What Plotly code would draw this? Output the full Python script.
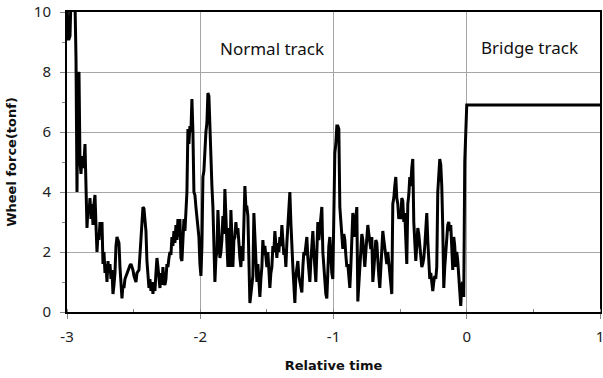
import plotly.graph_objects as go

# Normal-track wheel force (tonf), sampled every SAMPLE_STEP of relative time from START_TIME
START_TIME = -3.0
SAMPLE_STEP = 0.0075
normal_force = [
    10.5, 9.1, 9.1, 9.2, 10.5, 10.5, 10.5, 10.5, 10.3, 8.5, 4.0, 7.9, 8.0, 5.0, 4.6, 5.2, 4.8, 5.0, 5.6, 4.2,
    2.8, 3.5, 3.3, 3.8, 3.1, 3.6, 2.9, 3.6, 3.9, 2.9, 2.0, 2.6, 2.4, 3.0, 2.6, 3.0, 1.6, 2.0, 1.3, 1.6,
    1.0, 1.7, 1.3, 1.6, 1.1, 1.4, 0.6, 0.9, 1.3, 2.2, 2.5, 2.4, 2.3, 1.5, 0.9, 0.45, 0.9, 0.8, 1.1, 1.2,
    1.3, 1.4, 1.5, 1.55, 1.6, 1.5, 1.4, 1.2, 1.1, 1.0, 1.3, 1.35, 1.4, 1.9, 2.6, 3.3, 3.5, 3.45, 3.0, 2.7,
    1.7, 1.3, 0.8, 1.1, 0.7, 1.0, 0.6, 1.0, 0.7, 1.3, 1.8, 1.5, 1.2, 0.8, 1.3, 0.9, 1.5, 1.0, 0.9, 1.1,
    1.6, 1.5, 1.8, 2.0, 1.9, 2.5, 2.2, 2.7, 2.3, 2.9, 2.4, 3.1, 2.5, 3.1, 1.8, 1.7, 2.4, 3.1, 2.7, 3.3,
    4.0, 6.1, 5.6, 6.2, 6.0, 7.1, 6.0, 4.0, 3.9, 3.5, 3.2, 3.0, 2.5, 1.6, 1.2, 2.2, 4.5, 4.7, 5.5, 6.0,
    6.3, 7.3, 7.2, 6.0, 5.7, 4.2, 3.5, 2.0, 1.0, 1.8, 2.0, 3.4, 2.6, 1.8, 2.0, 2.4, 3.2, 2.6, 4.1, 2.8,
    2.3, 1.5, 2.8, 1.5, 3.4, 2.5, 1.5, 2.4, 2.5, 3.0, 2.6, 2.8, 2.2, 1.8, 1.5, 2.2, 1.7, 3.0, 4.2, 3.5,
    3.5, 3.2, 1.2, 0.3, 0.6, 1.0, 1.2, 3.3, 2.4, 1.5, 1.0, 1.6, 0.9, 0.5, 1.1, 1.5, 2.4, 1.9, 2.2, 1.8,
    1.5, 2.0, 1.2, 0.8, 1.3, 1.5, 2.2, 2.0, 2.7, 2.2, 1.8, 2.3, 2.0, 2.5, 2.2, 2.9, 2.2, 1.9, 2.1, 1.5,
    2.3, 3.0, 3.6, 4.0, 3.0, 1.9, 1.5, 0.9, 0.3, 1.2, 1.5, 1.7, 1.2, 1.0, 0.8, 0.65, 1.5, 2.0, 1.9, 2.3,
    2.5, 1.8, 1.4, 1.0, 1.7, 2.2, 2.7, 2.0, 1.5, 1.0, 2.0, 3.0, 2.4, 2.8, 3.2, 3.5, 2.0, 1.5, 0.9, 0.6,
    0.45, 1.5, 2.2, 2.5, 1.8, 1.3, 1.1, 3.0, 5.3, 5.6, 6.2, 6.2, 6.1, 3.5, 3.0, 2.8, 2.1, 2.6, 2.4, 1.9,
    1.5, 1.6, 1.2, 0.8, 1.5, 2.2, 3.3, 3.0, 2.5, 3.1, 3.5, 0.35, 1.0, 1.5, 2.0, 2.6, 2.4, 1.9, 1.5, 2.0,
    2.5, 2.9, 2.6, 2.4, 2.1, 2.5, 1.0, 1.4, 1.8, 2.4, 2.3, 1.6, 1.2, 0.8, 1.5, 2.1, 2.7, 2.4, 2.1, 1.7,
    1.6, 2.0, 1.7, 1.4, 0.9, 0.6, 3.6, 3.8, 4.2, 4.5, 3.8, 3.6, 3.1, 3.3, 3.1, 3.8, 3.7, 3.0, 3.3, 2.5,
    1.6, 3.6, 3.9, 4.5, 4.2, 4.8, 5.1, 3.0, 2.5, 1.7, 2.2, 2.8, 2.6, 2.2, 1.9, 1.5, 1.6, 1.8, 2.2, 2.6,
    3.3, 2.4, 1.9, 1.1, 1.3, 0.9, 0.7, 1.0, 1.2, 1.1, 1.5, 4.0, 4.5, 5.1, 4.9, 4.2, 2.8, 0.8, 1.5, 2.0,
    2.5, 2.9, 3.0, 2.7, 2.9, 2.0, 1.4, 2.5, 2.2, 1.5, 2.0, 1.7, 1.2, 0.9, 0.2, 0.9, 1.0, 0.5, 5.0,
]
normal_time = [round(START_TIME + i * SAMPLE_STEP, 4) for i in range(len(normal_force))]

# Bridge-track wheel force (constant)
bridge_time = [0.0, 1.0]
bridge_force = [6.9, 6.9]

x_ticks = [-3, -2, -1, 0, 1]
y_ticks = [0, 2, 4, 6, 8, 10]

label_font = "Noto Sans, DejaVu Sans, sans-serif"
title_font = "DejaVu Sans, Verdana, sans-serif"

fig = go.Figure()
fig.add_trace(go.Scatter(
    x=normal_time + bridge_time,
    y=normal_force + bridge_force,
    mode="lines",
    line=dict(color="black", width=3),
    showlegend=False,
    hoverinfo="skip",
))

fig.add_annotation(x=-1.46, y=8.8, text="Normal track", showarrow=False,
                   font=dict(family=label_font, size=17, color="#111111"))
fig.add_annotation(x=0.47, y=8.83, text="Bridge track", showarrow=False,
                   font=dict(family=label_font, size=17, color="#111111"))

fig.update_layout(
    width=603, height=378,
    margin=dict(l=67, r=3, t=12, b=66, autoexpand=False),
    paper_bgcolor="white",
    plot_bgcolor="white",
    font=dict(family=label_font, size=15, color="#222222"),
    xaxis=dict(
        range=[-3, 1],
        tickvals=x_ticks,
        ticktext=[str(v) for v in x_ticks],
        showgrid=True, gridcolor="#a6a6a6", gridwidth=1,
        zeroline=False,
        showline=True, linecolor="black", linewidth=2, mirror=True,
        ticks="outside", ticklen=5, tickcolor="#888888", tickwidth=1,
        minor=dict(dtick=0.5, ticks="inside", ticklen=3, tickcolor="#888888", showgrid=False),
        title=dict(text="<b>Relative time</b>", font=dict(family=title_font, size=13, color="#111111"), standoff=16),
        tickfont=dict(size=15),
        ticklabelstandoff=5,
        ticklabeloverflow="allow",
        automargin=False,
        fixedrange=True,
    ),
    yaxis=dict(
        range=[0, 10],
        tickvals=y_ticks,
        ticktext=[str(v) for v in y_ticks],
        showgrid=True, gridcolor="#a6a6a6", gridwidth=1,
        zeroline=False,
        showline=True, linecolor="black", linewidth=2, mirror=True,
        ticks="outside", ticklen=5, tickcolor="#888888", tickwidth=1,
        minor=dict(dtick=1, ticks="outside", ticklen=3, tickcolor="#888888", showgrid=False),
        title=dict(text="<b>Wheel force(tonf)</b>", font=dict(family=title_font, size=13, color="#111111"), standoff=14),
        tickfont=dict(size=15),
        ticklabelstandoff=6,
        ticklabeloverflow="allow",
        automargin=False,
        fixedrange=True,
    ),
)

fig.write_html("out.html")
